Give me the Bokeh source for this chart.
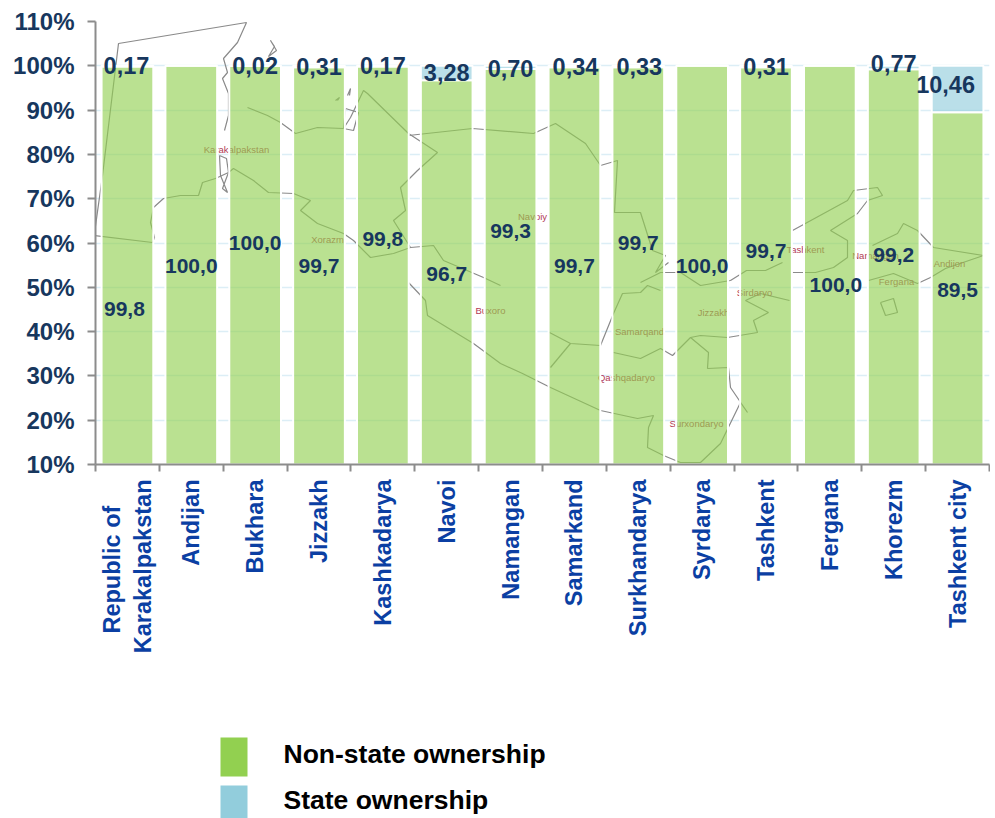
from bokeh.embed import file_html
from bokeh.resources import INLINE
from bokeh.layouts import column
from bokeh.plotting import figure
from bokeh.models import (ColumnDataSource, Range1d, LinearAxis, FixedTicker)
from bokeh.core.properties import value

# ---- data ----
REGIONS = ["Republic of\u00a0\u00a0\u00a0\u00a0\nKarakalpakstan", "Andijan", "Bukhara", "Jizzakh", "Kashkadarya", "Navoi",
           "Namangan", "Samarkand", "Surkhandarya", "Syrdarya", "Tashkent", "Fergana", "Khorezm",
           "Tashkent city"]
STATE = [0.17, 0.0, 0.02, 0.31, 0.17, 3.28, 0.70, 0.34, 0.33, 0.0, 0.31, 0.0, 0.77, 10.46]
NON_STATE = [99.83, 100.0, 99.98, 99.69, 99.83, 96.72, 99.30, 99.66, 99.67, 100.0, 99.69, 100.0, 99.23, 89.54]
Y_TICKS = [10, 20, 30, 40, 50, 60, 70, 80, 90, 100, 110]
SERIES_NAMES = ["Non-state ownership", "State ownership"]

# ---- hand placement of the value labels, as in the reference ----
NS_LABEL_Y = [45.2, 54.7, 60.1, 54.7, 60.8, 53.1, 62.8, 54.7, 60.1, 54.7, 58.3, 50.6, 57.4, 49.5]
NS_LABEL_DX = [-3, 0, 0, 0, 0, 0, 0, 0, 0, 0, 0, 6, 0, 0]
ST_LABEL_Y = [100, None, 100, 99.8, 100, 98.4, 99.5, 99.8, 99.8, None, 99.8, None, 100.5, 95.7]
ST_LABEL_DX = [-1, 0, 0, 0, 0, 0, 0, 1, 1, 0, 0, 0, 0, -12]

# ---- decorative background map, traced in image pixels ----
MAP_LINES = [
    [(93, 240), (102, 175), (118, 43), (246, 22), (237, 42), (223, 58), (227, 72), (222, 78), (228, 93), (228, 115), (224, 130)],
    [(93, 235), (152, 242), (154, 237), (150, 222), (153, 207), (163, 198), (180, 195), (198, 195), (202, 182), (215, 178), (228, 172),
     (233, 168), (253, 180), (268, 192), (293, 193), (310, 200), (300, 210), (317, 223), (343, 233), (353, 240), (370, 257), (393, 253), (410, 247)],
    [(219, 155), (226, 158), (228, 172), (222, 188), (227, 192), (220, 175), (219, 155)],
    [(247, 107), (267, 115), (280, 122), (295, 133), (317, 127), (343, 128), (350, 117), (363, 90), (367, 93), (408, 133), (437, 152),
     (417, 170), (400, 187), (405, 210), (393, 220), (410, 247), (433, 245), (443, 260), (483, 277), (500, 285)],
    [(408, 135), (472, 128), (533, 133), (555, 123), (585, 143), (600, 165), (617, 160), (614, 212), (640, 212), (652, 250), (665, 255), (655, 272), (668, 262)],
    [(408, 282), (425, 300), (427, 315), (473, 343), (500, 363), (522, 373), (550, 387), (600, 410), (637, 418), (653, 415), (648, 427),
     (647, 447), (663, 455), (680, 462), (700, 462), (720, 443), (740, 402), (747, 412), (730, 387), (728, 367), (707, 368), (708, 352), (690, 337)],
    [(549, 332), (570, 343), (600, 345), (613, 313), (622, 293), (640, 292), (647, 285), (660, 290)],
    [(550, 367), (570, 343)],
    [(613, 352), (640, 358), (660, 348), (672, 355), (690, 337), (700, 335), (727, 337), (757, 332), (753, 320), (768, 312), (745, 300), (760, 293), (789, 300)],
    [(640, 282), (660, 272), (680, 272), (700, 285), (730, 280), (746, 270), (765, 270), (782, 262)],
    [(792, 230), (847, 200), (853, 190), (877, 187), (882, 195), (867, 200), (857, 213), (830, 230), (847, 240), (847, 257), (833, 267), (815, 272), (792, 272)],
    [(868, 280), (893, 273), (917, 283), (930, 277), (945, 268), (983, 255)],
    [(872, 245), (897, 233), (903, 223), (917, 230), (933, 247), (983, 255)],
    [(880, 302), (893, 298), (897, 312), (885, 315), (880, 302)],
    [(347, 95), (350, 88), (349, 95)], [(335, 100), (339, 97), (337, 100)], [(345, 108), (358, 112), (353, 130), (343, 128), (345, 108)],
    [(270, 40), (276, 50), (268, 56), (274, 46), (270, 40)],
]
MAP_NAMES = ["Karakalpakstan", "Xorazm", "Navoiy", "Buxoro", "Samarqand", "Qashqadaryo", "Surxondaryo",
             "Jizzakh", "Sirdaryo", "Tashkent", "Namangan", "Fergana", "Andijon"]
MAP_NAME_X = [236, 327, 532, 490, 639, 626, 696, 713, 754, 805, 875, 896, 949]
MAP_NAME_Y = [149, 239, 216, 310, 331, 377, 423, 312, 292, 249, 255, 281, 263]

BLUE_DARK = "#17375E"
AXIS_GRAY = "#8C8C8C"
LABEL_BLUE = "#0B3FA3"
GREEN = "#92D050"
CYAN = "#92CDDC"
FONT = "Liberation Sans"

n = len(REGIONS)
centers = [i + 0.5 for i in range(n)]

p = figure(width=990, height=700, output_backend="svg", toolbar_location=None,
           x_range=Range1d(0, n), y_range=Range1d(10, 110))
p.frame_width = 894
p.frame_height = 443
p.min_border_left = 95
p.min_border_right = 1
p.min_border_top = 21
p.min_border_bottom = 236
p.outline_line_color = None
p.background_fill_color = "white"
p.xaxis.visible = False
p.xgrid.visible = False
p.yaxis.visible = False
p.ygrid.grid_line_color = "#DCEEF6"
p.ygrid.grid_line_width = 1.5
p.ygrid.ticker = FixedTicker(ticks=Y_TICKS)

p.extra_x_ranges["px"] = Range1d(95, 989)
p.extra_y_ranges["py"] = Range1d(464, 21)

# map beneath the bars
p.multi_line([[a for a, _ in l] for l in MAP_LINES], [[b for _, b in l] for l in MAP_LINES],
             line_color="#8A8A8A", line_width=1.2, x_range_name="px", y_range_name="py")
p.text(MAP_NAME_X, MAP_NAME_Y, text=MAP_NAMES, text_font=value(FONT), text_font_size="9.5px",
       text_color="#B23A55", text_align="center", text_baseline="middle",
       x_range_name="px", y_range_name="py")

# stacked bars
src = ColumnDataSource(dict(x=centers, base=[10] * n, ns=NON_STATE,
                            st_top=[a + b for a, b in zip(NON_STATE, STATE)]))
p.vbar(x="x", bottom="base", top="ns", width=0.81, source=src, fill_color=GREEN, fill_alpha=0.63,
       line_color="white", line_width=2)
p.vbar(x="x", bottom="ns", top="st_top", width=0.81, source=src, fill_color=CYAN, fill_alpha=0.63,
       line_color="white", line_width=2)

# value labels
fmt1 = lambda v: f"{v:.1f}".replace(".", ",")
fmt2 = lambda v: f"{v:.2f}".replace(".", ",")
p.text(centers, NS_LABEL_Y, text=[fmt1(v) for v in NON_STATE], x_offset=NS_LABEL_DX,
       text_font=value(FONT), text_font_style="bold", text_font_size="21px", text_color=BLUE_DARK,
       text_align="center", text_baseline="middle")
idx = [i for i, v in enumerate(STATE) if v > 0]
p.text([centers[i] for i in idx], [ST_LABEL_Y[i] for i in idx], text=[fmt2(STATE[i]) for i in idx],
       x_offset=[ST_LABEL_DX[i] for i in idx],
       text_font=value(FONT), text_font_style="bold", text_font_size="23.5px", text_color=BLUE_DARK,
       text_align="center", text_baseline="middle")

# axes
yax = LinearAxis(ticker=FixedTicker(ticks=Y_TICKS), major_label_overrides={t: f"{t}%" for t in Y_TICKS})
yax.major_label_text_font = FONT
yax.major_label_text_font_style = "bold"
yax.major_label_text_font_size = "24px"
yax.major_label_text_color = BLUE_DARK
yax.major_label_standoff = 13
yax.axis_line_color = AXIS_GRAY
yax.axis_line_width = 2
yax.major_tick_line_color = AXIS_GRAY
yax.major_tick_line_width = 2
yax.major_tick_out = 8
yax.major_tick_in = 0
yax.minor_tick_line_color = None
p.add_layout(yax, "left")

tick_ax = LinearAxis(ticker=FixedTicker(ticks=list(range(n + 1))),
                     major_label_overrides={i: "" for i in range(n + 1)},
                     major_label_text_font_size="1px", major_label_standoff=0)
tick_ax.axis_line_color = AXIS_GRAY
tick_ax.axis_line_width = 2
tick_ax.major_tick_line_color = AXIS_GRAY
tick_ax.major_tick_line_width = 2
tick_ax.major_tick_out = 7
tick_ax.major_tick_in = 0
tick_ax.minor_tick_line_color = None
p.add_layout(tick_ax, "below")

cax = LinearAxis(ticker=FixedTicker(ticks=centers),
                 major_label_overrides=dict(zip(centers, REGIONS)))
cax.axis_line_color = None
cax.major_tick_line_color = None
cax.minor_tick_line_color = None
cax.major_tick_out = 0
cax.major_tick_in = 0
cax.major_label_orientation = 1.5708
cax.major_label_text_font = FONT
cax.major_label_text_font_style = "bold"
cax.major_label_text_font_size = "23.5px"
cax.major_label_text_color = LABEL_BLUE
cax.major_label_standoff = 8
p.add_layout(cax, "below")

# legend, its own small figure below the chart, in image-pixel units; its frame lines up with the chart's
q = figure(width=990, height=118, output_backend="svg", toolbar_location=None,
           x_range=Range1d(95, 989), y_range=Range1d(818, 700))
q.frame_width = 894
q.frame_height = 118
q.min_border_left = 95
q.min_border_right = 1
q.min_border_top = 0
q.min_border_bottom = 0
q.outline_line_color = None
q.xaxis.visible = False
q.yaxis.visible = False
q.xgrid.visible = False
q.ygrid.visible = False
q.quad(left=[220, 220], right=[247, 247], top=[737, 785], bottom=[776, 818], fill_color=[GREEN, CYAN], line_color=None)
q.text([283, 283], [753, 799], text=SERIES_NAMES, text_font=value(FONT), text_font_style="bold",
       text_font_size="26.5px", text_color="#000000", text_align="left", text_baseline="middle")

open("out.html", "w").write(file_html(column(p, q, spacing=0), INLINE))
